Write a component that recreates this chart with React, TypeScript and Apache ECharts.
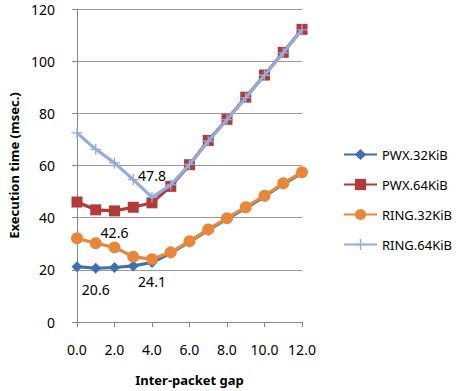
import React, { useEffect, useRef } from "react";
import * as echarts from "echarts";

const gaps = [0, 1, 2, 3, 4, 5, 6, 7, 8, 9, 10, 11, 12];
const seriesNames = ["PWX.32KiB", "PWX.64KiB", "RING.32KiB", "RING.64KiB"];
const pwx32 = [21.2, 20.6, 20.9, 21.5, 22.8, 26.4, 30.7, 35.2, 39.5, 43.7, 48.1, 52.9, 57.1];
const pwx64 = [46.0, 43.0, 42.6, 44.0, 45.7, 52.0, 60.3, 69.6, 77.7, 86.2, 94.7, 103.4, 112.2];
const ring32 = [32.1, 30.2, 28.6, 25.0, 24.1, 26.7, 31.0, 35.5, 39.8, 44.0, 48.4, 53.2, 57.4];
const ring64 = [72.5, 66.2, 61.0, 54.6, 47.8, 52.6, 60.4, 69.3, 77.6, 86.0, 94.6, 103.2, 112.0];
const yTicks = [0, 20, 40, 60, 80, 100, 120];

const colors = ["#3F6FAE", "#B23A3A", "#E8873A", "#93ACDA"];
const symbols = [
  "diamond",
  "rect",
  "circle",
  "path://M4.4,0H5.6V4.4H10V5.6H5.6V10H4.4V5.6H0V4.4H4.4Z",
];
const symbolSizes = [11, 11, 12, 11];
const labelPos = ["bottom", "bottom", "bottom", "top"];

export default function App() {
  const ref = useRef<HTMLDivElement>(null);
  useEffect(() => {
    if (!ref.current) return;
    const chart = echarts.init(ref.current, undefined, { renderer: "svg" });
    const all = [pwx32, pwx64, ring32, ring64];
    const font = "Noto Sans";
    const series = all.map((vals, si) => {
      let minIdx = 0;
      vals.forEach((v, i) => {
        if (v < vals[minIdx]) minIdx = i;
      });
      return {
        name: seriesNames[si],
        type: "line",
        symbol: symbols[si],
        symbolSize: symbolSizes[si],
        showAllSymbol: true,
        lineStyle: { width: 3.2, color: colors[si] },
        itemStyle: { color: colors[si] },
        data: vals.map((v, i) => ({
          value: [gaps[i], v],
          label:
            i === minIdx
              ? {
                  show: true,
                  position: labelPos[si],
                  distance: 9,
                  formatter: (p: any) => p.value[1].toFixed(1),
                  color: "#000",
                  fontSize: 14,
                  fontFamily: font,
                }
              : { show: false },
        })),
        z: 2 + si,
      };
    });
    chart.setOption({
      animation: false,
      backgroundColor: "#fff",
      grid: { left: 77, right: 155, top: 9, bottom: 69 },
      xAxis: {
        type: "value",
        min: 0,
        max: 12,
        interval: 2,
        name: "Inter-packet gap",
        nameLocation: "middle",
        nameGap: 51,
        nameTextStyle: { fontFamily: font, fontWeight: "bold", fontSize: 13, color: "#000" },
        axisLine: { show: true, lineStyle: { color: "#888", width: 1 } },
        axisTick: { show: true, length: 5, lineStyle: { color: "#888" } },
        axisLabel: {
          formatter: (v: number) => v.toFixed(1),
          fontFamily: font,
          fontSize: 14,
          color: "#000",
          margin: 20,
        },
        splitLine: { show: false },
      },
      yAxis: {
        type: "value",
        min: 0,
        max: 120,
        interval: 20,
        name: "Execution time (msec.)",
        nameLocation: "middle",
        nameGap: 57,
        nameTextStyle: { fontFamily: font, fontWeight: "bold", fontSize: 13, color: "#000" },
        axisLine: { show: true, lineStyle: { color: "#888", width: 1 } },
        axisTick: { show: true, length: 5, lineStyle: { color: "#888" } },
        axisLabel: {
          formatter: (v: number) => (yTicks.includes(v) ? String(v) : ""),
          fontFamily: font,
          fontSize: 14,
          color: "#000",
          margin: 22,
        },
        splitLine: { show: true, lineStyle: { color: "#999", width: 1 } },
      },
      legend: {
        orient: "vertical",
        left: 338,
        top: 143,
        itemWidth: 33,
        itemHeight: 14,
        itemGap: 17,
        textStyle: { fontFamily: font, fontSize: 13, color: "#000" },
        data: seriesNames,
      },
      series,
    });
    return () => chart.dispose();
  }, []);
  return <div ref={ref} style={{ width: 457, height: 391, position: "absolute", left: 0, top: 0 }} />;
}
